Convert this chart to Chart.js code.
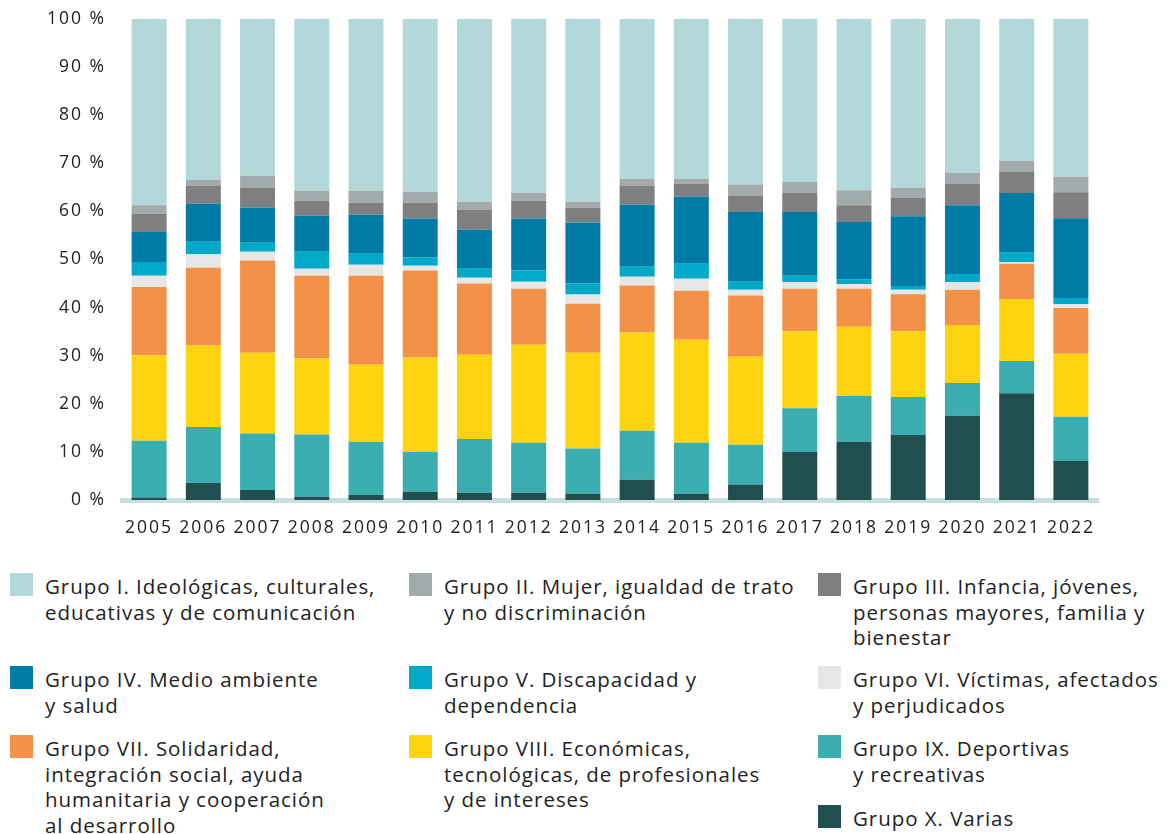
<!DOCTYPE html>
<html>
<head>
<meta charset="utf-8">
<script src="https://cdn.jsdelivr.net/npm/chart.js@4/dist/chart.umd.min.js"></script>
<style>
  html, body { margin: 0; padding: 0; background: #ffffff; }
  body { width: 1168px; height: 834px; position: relative; overflow: hidden; font-family: "Open Sans", sans-serif; color: #222; }
  #wrap { position: absolute; left: 0; top: 0; width: 1168px; height: 548px; }
  .sw { position: absolute; width: 23px; height: 23px; }
  .tx { position: absolute; font-size: 20.5px; letter-spacing: 0.95px; line-height: 25.5px; white-space: nowrap; color: #222; }
</style>
</head>
<body>
<div id="wrap"><canvas id="c"></canvas></div>
<div id="legend"></div>
<script>
const years = ["2005","2006","2007","2008","2009","2010","2011","2012","2013","2014","2015","2016","2017","2018","2019","2020","2021","2022"];
const yTicks = [0,10,20,30,40,50,60,70,80,90,100];

const grupoI    = [38.7,33.4,32.6,35.7,35.7,35.9,38.0,36.1,38.0,33.2,33.2,34.4,33.9,35.6,35.1,32.0,29.5,32.8];
const grupoII   = [1.8,1.3,2.5,2.1,2.5,2.3,1.6,1.7,1.2,1.5,1.0,2.3,2.3,3.1,2.1,2.3,2.3,3.2];
const grupoIII  = [3.8,3.7,4.1,3.1,2.5,3.3,4.2,3.7,3.1,3.9,2.7,3.4,3.9,3.5,3.8,4.4,4.4,5.4];
const grupoIV   = [6.2,7.9,7.3,7.5,8.1,8.1,8.1,10.8,12.7,12.9,14.0,14.5,13.3,11.9,14.5,14.3,12.4,16.6];
const grupoV    = [2.9,2.6,1.9,3.5,2.3,1.7,1.9,2.3,2.3,2.1,3.1,1.7,1.3,1.0,0.8,1.7,1.9,1.3];
const grupoVI   = [2.3,2.8,1.8,1.5,2.3,1.0,1.2,1.5,1.9,1.8,2.5,1.2,1.4,1.0,0.9,1.6,0.4,0.8];
const grupoVII  = [14.2,16.2,19.2,17.2,18.5,18.1,14.8,11.6,10.2,9.8,10.2,12.7,8.8,7.9,7.7,7.3,7.3,9.5];
const grupoVIII = [17.8,16.9,16.8,15.8,16.0,19.6,17.5,20.4,19.9,20.4,21.4,18.3,16.0,14.4,13.7,12.1,12.9,13.1];
const grupoIX   = [11.8,11.6,11.7,12.9,11.0,8.3,11.2,10.4,9.4,10.2,10.6,8.3,9.1,9.5,7.9,6.8,6.7,9.2];
const grupoX    = [0.5,3.6,2.1,0.7,1.1,1.7,1.5,1.5,1.3,4.2,1.3,3.2,10.0,12.1,13.5,17.5,22.2,8.1];

const seriesLabels = [
  "Grupo I. Ideológicas, culturales,\neducativas y de comunicación",
  "Grupo II. Mujer, igualdad de trato\ny no discriminación",
  "Grupo III. Infancia, jóvenes,\npersonas mayores, familia y\nbienestar",
  "Grupo IV. Medio ambiente\ny salud",
  "Grupo V. Discapacidad y\ndependencia",
  "Grupo VI. Víctimas, afectados\ny perjudicados",
  "Grupo VII. Solidaridad,\nintegración social, ayuda\nhumanitaria y cooperación\nal desarrollo",
  "Grupo VIII. Económicas,\ntecnológicas, de profesionales\ny de intereses",
  "Grupo IX. Deportivas\ny recreativas",
  "Grupo X. Varias"
];
const seriesColors = ["#b2d8d9","#a2aaac","#7f7f7f","#007ba6","#00a9c8","#e6e6e6","#f39149","#fed310","#39adb0","#214f50"];
const seriesData = [grupoI,grupoII,grupoIII,grupoIV,grupoV,grupoVI,grupoVII,grupoVIII,grupoIX,grupoX];

const datasets = [];
for (let i = seriesData.length - 1; i >= 0; i--) {
  datasets.push({
    label: seriesLabels[i].replace(/\n/g, " "),
    data: seriesData[i],
    backgroundColor: seriesColors[i],
    borderWidth: 0,
    barPercentage: 0.645,
    categoryPercentage: 1.0
  });
}

const spacingPlugin = {
  id: "spacing",
  beforeUpdate: c => { c.ctx.letterSpacing = "2px"; },
  beforeLayout: c => { c.ctx.letterSpacing = "2px"; },
  beforeDraw: c => { c.ctx.letterSpacing = "2px"; }
};

new Chart(document.getElementById("c"), {
  type: "bar",
  data: { labels: years, datasets },
  plugins: [spacingPlugin],
  options: {
    responsive: true,
    maintainAspectRatio: false,
    animation: false,
    layout: { padding: { top: 19, right: 70, left: 0, bottom: 0 } },
    plugins: { legend: { display: false }, tooltip: { enabled: false } },
    scales: {
      x: {
        stacked: true,
        grid: { display: false, drawTicks: false },
        border: { display: true, color: "#c6e0e1", width: 5 },
        ticks: { color: "#222", font: { family: "Open Sans", size: 17.5 }, padding: 18, maxRotation: 0 },
        afterFit: s => { s.height = 48; s.paddingLeft = 0; s.paddingRight = 0; }
      },
      y: {
        stacked: true,
        min: 0, max: 100,
        grid: { display: false, drawTicks: false },
        border: { display: false },
        afterBuildTicks: s => { s.ticks = yTicks.map(v => ({ value: v })); },
        ticks: { color: "#222", font: { family: "Open Sans", size: 17.5 }, padding: 16, callback: v => v + " %" },
        afterFit: s => { s.width = 122; s.paddingTop = 0; s.paddingBottom = 0; }
      }
    }
  }
});

const legendPos = [
  [10, 573], [409, 573], [818, 573],
  [10, 666], [409, 666], [818, 666],
  [10, 735], [409, 735], [818, 735],
  [818, 805]
];
const lg = document.getElementById("legend");
seriesLabels.forEach((lab, i) => {
  const [x, y] = legendPos[i];
  const sw = document.createElement("div");
  sw.className = "sw";
  sw.style.left = x + "px"; sw.style.top = y + "px";
  sw.style.background = seriesColors[i];
  lg.appendChild(sw);
  const tx = document.createElement("div");
  tx.className = "tx";
  tx.style.left = (x + 35) + "px"; tx.style.top = (y + 1) + "px";
  tx.innerHTML = lab.split("\n").join("<br>");
  lg.appendChild(tx);
});
</script>
</body>
</html>
